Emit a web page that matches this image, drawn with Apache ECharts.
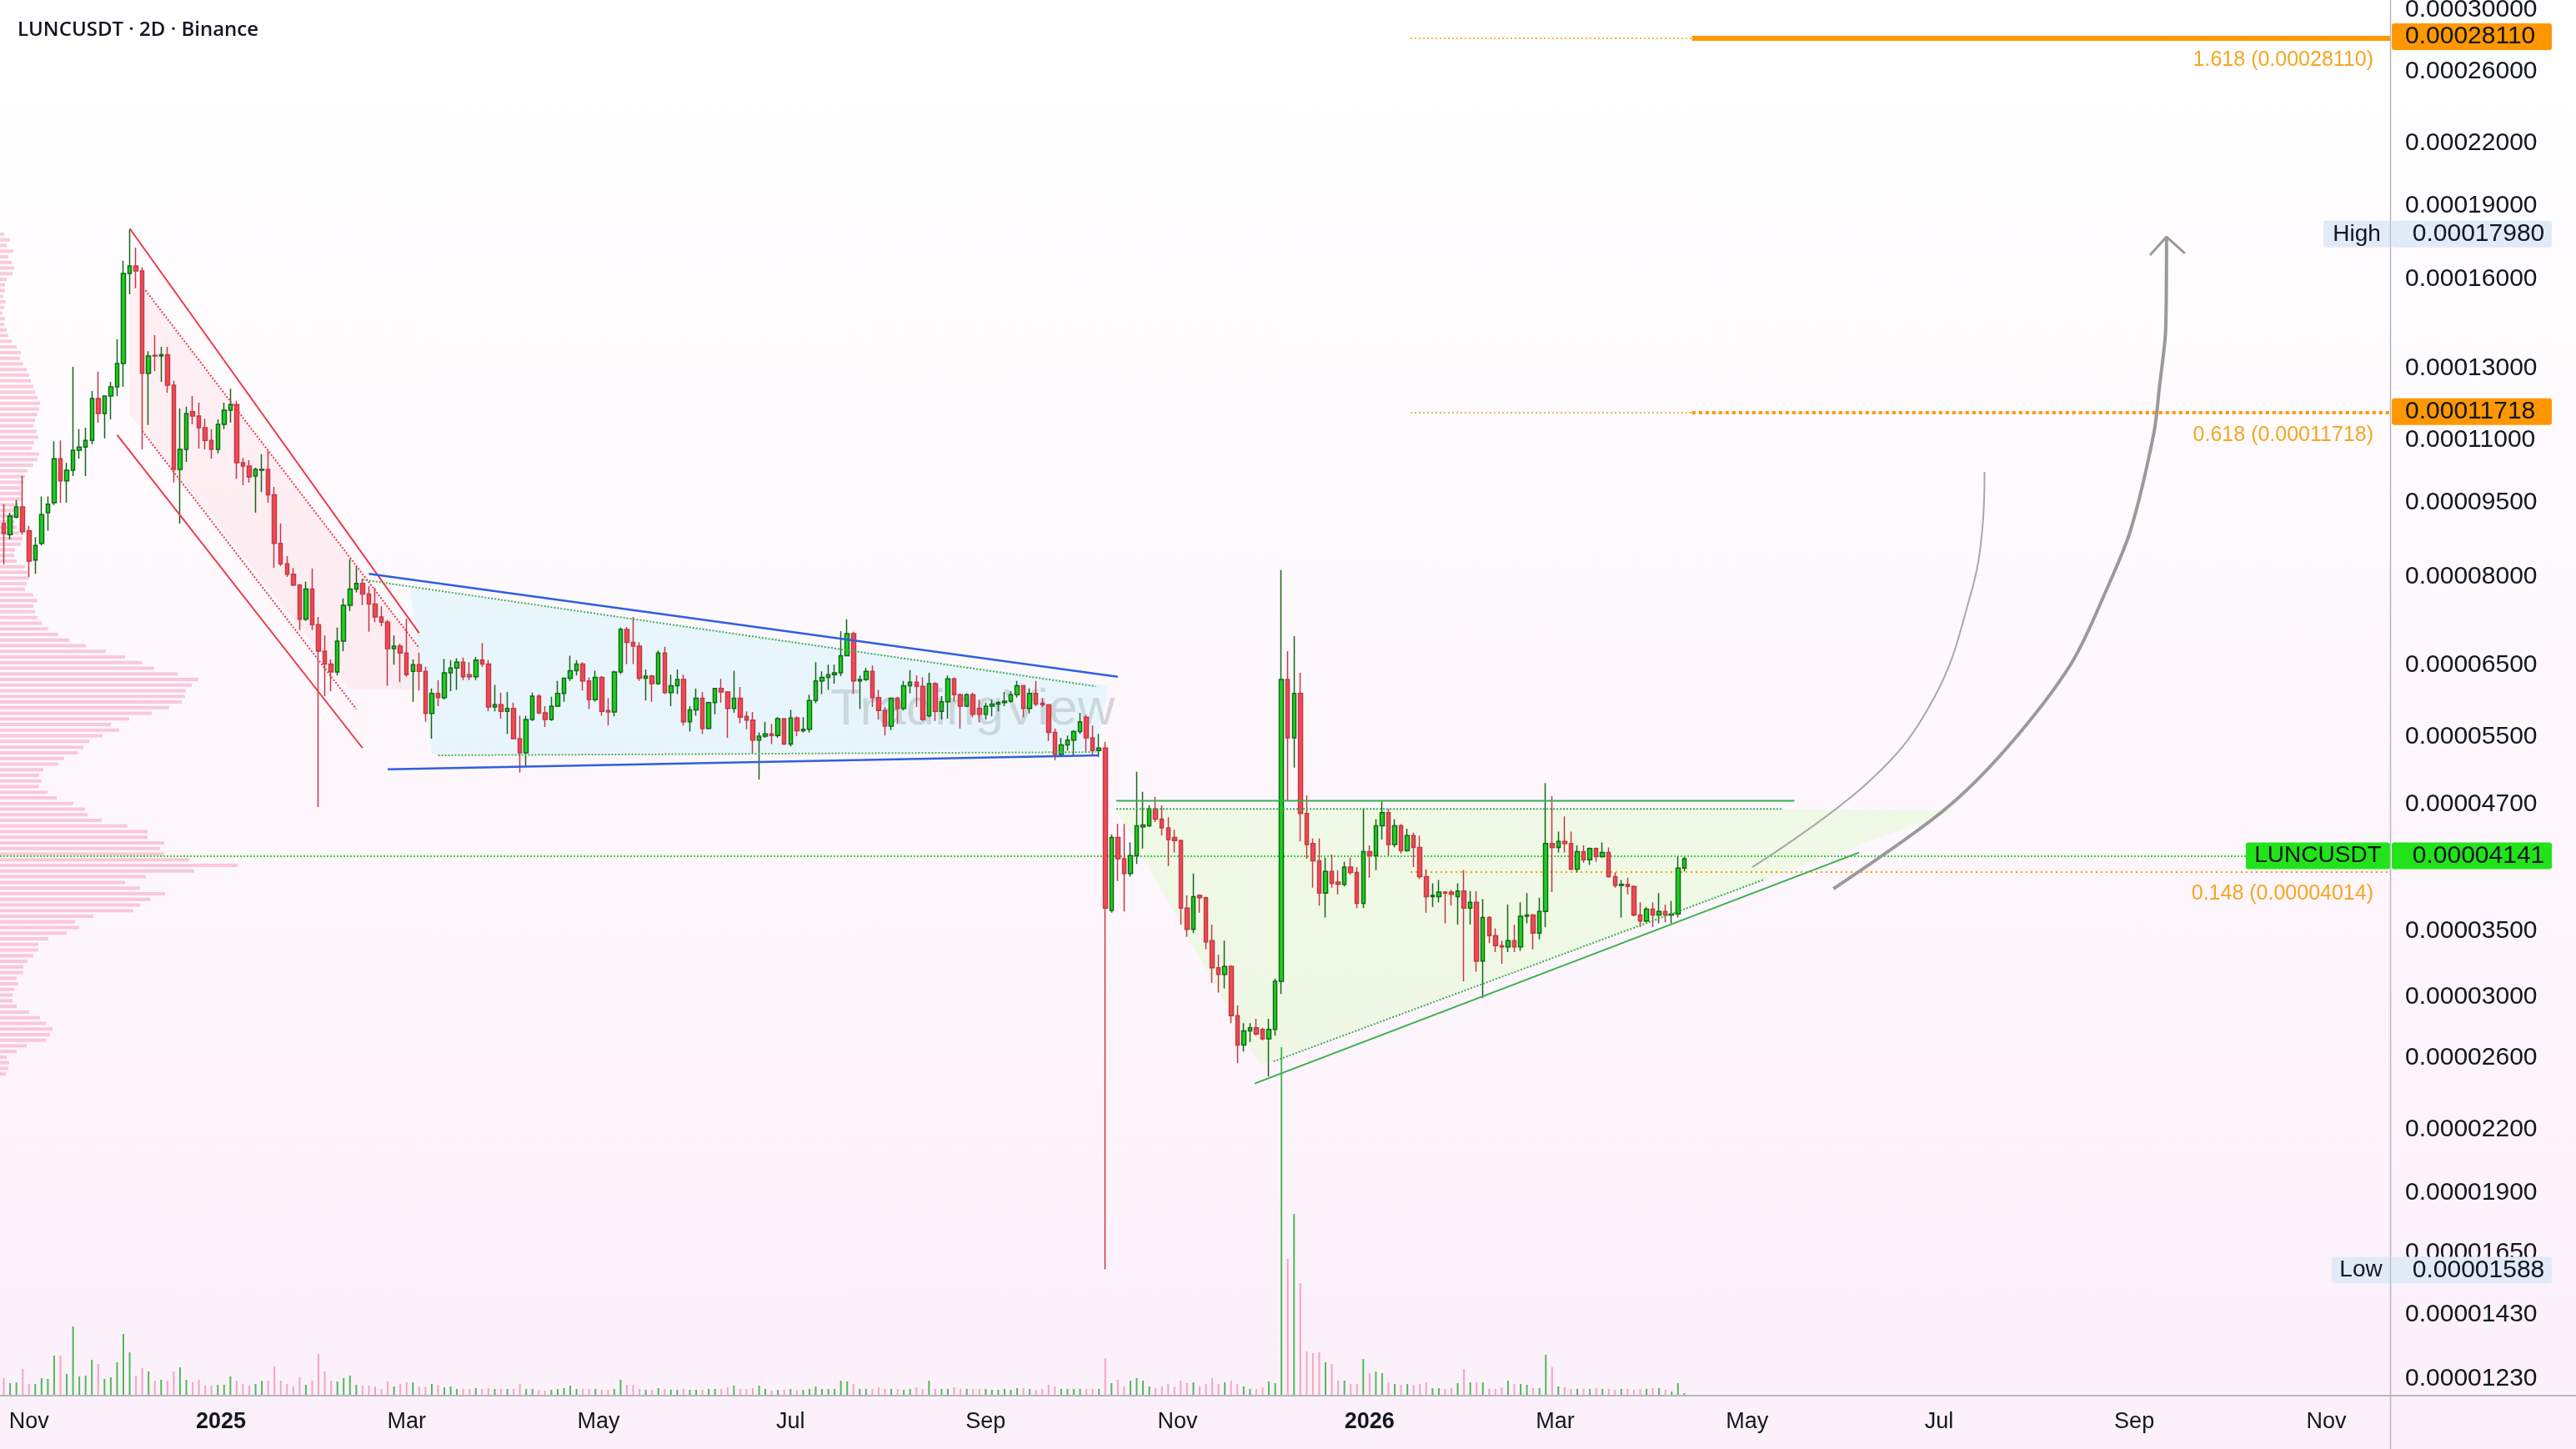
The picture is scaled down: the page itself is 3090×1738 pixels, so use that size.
<!DOCTYPE html>
<html>
<head>
<meta charset="utf-8">
<title>LUNCUSDT · 2D · Binance</title>
<script src="https://cdn.jsdelivr.net/npm/echarts@6.0.0/dist/echarts.min.js"></script>
<style>
  html, body { margin: 0; padding: 0; background: #fff; }
  #chart { width: 3090px; height: 1738px; }
</style>
</head>
<body>
<div id="chart"></div>
<script>
// prices are kept in units of 1e-5 USDT, one candle every 2 days from firstBar
const UNIT = 1e-5;
const firstBar = '2024-10-24';

const open = [
  9.05, 8.82, 9.19, 9.41, 8.90, 8.31, 8.64, 9.28, 9.50, 10.53,
  10.00, 10.25, 10.74, 10.82, 10.99, 12.12, 11.70, 12.19, 12.45, 13.15,
  16.22, 16.51, 16.32, 12.85, 13.40, 13.38, 13.42, 12.50, 10.27, 10.76,
  11.75, 11.63, 11.32, 10.99, 10.76, 11.41, 11.79, 11.95, 10.43, 10.35,
  10.11, 10.25, 10.27, 9.68, 8.64, 8.24, 8.04, 7.84, 7.24, 7.77,
  7.15, 6.72, 6.52, 6.40, 6.88, 7.48, 7.77, 7.87, 7.68, 7.50,
  7.28, 7.19, 6.76, 6.80, 6.69, 6.41, 6.51, 6.41, 5.81, 6.09,
  6.03, 6.39, 6.46, 6.55, 6.36, 6.33, 6.58, 6.52, 5.90, 5.93,
  5.84, 5.88, 5.48, 5.30, 5.73, 6.05, 5.82, 5.73, 5.91, 6.09,
  6.31, 6.42, 6.52, 6.27, 6.00, 6.32, 5.85, 5.83, 6.40, 7.07,
  6.86, 6.80, 6.31, 6.34, 6.23, 6.69, 6.10, 6.20, 6.29, 5.70,
  5.86, 6.02, 5.61, 5.96, 6.16, 6.11, 5.88, 6.02, 5.77, 5.72,
  5.46, 5.51, 5.54, 5.52, 5.74, 5.41, 5.75, 5.58, 5.60, 5.99,
  6.27, 6.32, 6.36, 6.39, 6.65, 7.00, 6.27, 6.29, 6.41, 6.03,
  5.85, 5.64, 6.02, 5.88, 6.20, 6.25, 6.19, 5.78, 6.23, 5.84,
  5.97, 6.30, 6.07, 5.91, 6.07, 5.88, 5.80, 5.91, 5.94, 5.96,
  5.98, 6.07, 6.20, 5.88, 6.09, 5.95, 5.93, 5.56, 5.28, 5.40,
  5.46, 5.57, 5.76, 5.49, 5.33, 5.36, 3.67, 4.35, 4.14, 4.00,
  4.17, 4.46, 4.47, 4.65, 4.54, 4.45, 4.35, 4.32, 3.69, 3.51,
  3.80, 3.78, 3.42, 3.21, 3.16, 3.22, 2.87, 2.68, 2.77, 2.79,
  2.78, 2.72, 2.78, 3.11, 6.29, 5.49, 6.09, 4.60, 4.29, 4.12,
  3.82, 4.02, 3.92, 3.90, 4.06, 4.01, 3.73, 4.21, 4.17, 4.47,
  4.61, 4.28, 4.47, 4.22, 4.37, 4.25, 3.97, 3.79, 3.79, 3.83,
  3.83, 3.79, 3.84, 3.69, 3.74, 3.26, 3.61, 3.46, 3.38, 3.37,
  3.42, 3.37, 3.62, 3.63, 3.48, 3.66, 4.29, 4.25, 4.31, 4.29,
  4.04, 4.21, 4.13, 4.24, 4.16, 4.20, 3.97, 3.89, 3.90, 3.88,
  3.63, 3.58, 3.68, 3.63, 3.66, 3.63, 3.64, 4.05
];
const close = [
  8.84, 9.21, 9.41, 8.88, 8.29, 8.60, 9.24, 9.47, 10.53, 10.00,
  10.25, 10.74, 10.82, 10.99, 12.12, 11.70, 12.19, 12.45, 13.15, 16.22,
  16.51, 16.32, 12.85, 13.38, 13.38, 13.42, 12.50, 10.27, 10.76, 11.70,
  11.63, 11.32, 10.99, 10.76, 11.41, 11.79, 11.95, 10.43, 10.35, 10.09,
  10.27, 10.27, 9.68, 8.64, 8.24, 8.04, 7.84, 7.24, 7.77, 7.15,
  6.72, 6.52, 6.40, 6.88, 7.48, 7.77, 7.87, 7.68, 7.50, 7.28,
  7.19, 6.76, 6.80, 6.69, 6.36, 6.51, 6.41, 5.81, 6.09, 6.03,
  6.39, 6.46, 6.55, 6.33, 6.33, 6.58, 6.52, 5.90, 5.93, 5.84,
  5.88, 5.48, 5.30, 5.73, 6.05, 5.82, 5.73, 5.91, 6.09, 6.31,
  6.42, 6.52, 6.27, 6.00, 6.32, 5.84, 5.83, 6.40, 7.07, 6.86,
  6.80, 6.31, 6.34, 6.23, 6.69, 6.10, 6.20, 6.29, 5.70, 5.86,
  6.02, 5.61, 5.96, 6.16, 6.11, 5.88, 6.02, 5.76, 5.72, 5.46,
  5.51, 5.54, 5.52, 5.74, 5.41, 5.75, 5.58, 5.60, 5.99, 6.27,
  6.32, 6.36, 6.39, 6.65, 7.00, 6.27, 6.29, 6.41, 6.03, 5.85,
  5.64, 6.02, 5.88, 6.20, 6.25, 6.19, 5.73, 6.23, 5.84, 5.97,
  6.30, 6.07, 5.91, 6.07, 5.80, 5.80, 5.91, 5.94, 5.96, 5.98,
  6.07, 6.20, 5.88, 6.09, 5.94, 5.93, 5.56, 5.28, 5.40, 5.46,
  5.57, 5.70, 5.49, 5.33, 5.36, 3.69, 4.35, 4.14, 4.00, 4.17,
  4.47, 4.48, 4.65, 4.54, 4.45, 4.33, 4.32, 3.69, 3.51, 3.79,
  3.78, 3.41, 3.21, 3.16, 3.22, 2.87, 2.68, 2.77, 2.79, 2.75,
  2.72, 2.78, 3.11, 6.29, 5.49, 6.09, 4.60, 4.28, 4.12, 3.82,
  4.02, 3.91, 3.90, 4.06, 4.01, 3.73, 4.21, 4.17, 4.47, 4.61,
  4.28, 4.47, 4.22, 4.37, 4.25, 3.97, 3.79, 3.80, 3.83, 3.82,
  3.81, 3.84, 3.69, 3.74, 3.26, 3.61, 3.46, 3.38, 3.37, 3.42,
  3.37, 3.62, 3.63, 3.48, 3.66, 4.29, 4.25, 4.31, 4.29, 4.04,
  4.21, 4.13, 4.24, 4.16, 4.20, 3.97, 3.89, 3.90, 3.88, 3.63,
  3.58, 3.68, 3.63, 3.66, 3.63, 3.64, 4.05, 4.141
];
const low = [
  8.23, 8.72, 9.16, 8.82, 7.99, 8.05, 8.60, 8.90, 9.45, 9.50,
  9.50, 10.11, 10.53, 10.11, 10.89, 11.45, 11.04, 11.54, 12.19, 12.45,
  15.45, 15.67, 10.76, 11.39, 12.92, 12.60, 12.28, 9.96, 9.05, 10.45,
  11.41, 10.78, 10.76, 10.53, 10.66, 11.28, 11.45, 10.05, 9.90, 9.96,
  9.28, 9.74, 9.50, 8.16, 8.20, 7.99, 7.82, 7.06, 7.21, 7.06,
  4.67, 6.05, 6.12, 6.35, 6.72, 7.38, 7.71, 7.48, 7.03, 7.19,
  7.12, 6.20, 6.51, 6.25, 6.33, 5.97, 6.13, 5.70, 5.48, 5.91,
  6.00, 6.12, 6.14, 6.28, 6.28, 6.28, 6.48, 5.84, 5.84, 5.74,
  5.54, 5.47, 5.06, 5.13, 5.71, 5.80, 5.63, 5.71, 5.90, 5.97,
  6.27, 6.35, 6.13, 5.87, 5.97, 5.78, 5.65, 5.77, 6.37, 6.52,
  6.52, 6.27, 5.99, 5.97, 6.21, 6.08, 5.91, 6.08, 5.65, 5.57,
  5.78, 5.54, 5.60, 5.80, 5.96, 5.49, 5.82, 5.68, 5.60, 5.30,
  4.98, 5.49, 5.41, 5.49, 5.40, 5.38, 5.51, 5.56, 5.56, 5.95,
  6.08, 6.14, 6.23, 6.34, 6.64, 6.08, 5.87, 6.27, 5.90, 5.73,
  5.52, 5.59, 5.67, 5.85, 6.09, 5.90, 5.71, 5.76, 5.71, 5.73,
  5.74, 5.97, 5.61, 5.90, 5.76, 5.69, 5.73, 5.77, 5.84, 5.91,
  5.96, 6.03, 5.76, 5.81, 5.91, 5.90, 5.45, 5.21, 5.26, 5.33,
  5.27, 5.54, 5.30, 5.28, 5.25, 1.588, 3.65, 3.93, 3.66, 3.97,
  4.09, 4.24, 4.46, 4.51, 4.37, 4.07, 4.20, 3.55, 3.45, 3.48,
  3.65, 3.35, 3.10, 3.03, 3.06, 2.82, 2.57, 2.64, 2.70, 2.74,
  2.71, 2.49, 2.74, 3.02, 4.74, 5.12, 4.31, 4.14, 3.87, 3.71,
  3.61, 3.87, 3.81, 3.88, 3.99, 3.69, 3.69, 3.96, 4.03, 4.33,
  4.17, 4.25, 4.19, 4.21, 4.06, 3.95, 3.65, 3.70, 3.74, 3.56,
  3.71, 3.55, 3.11, 3.55, 3.18, 2.99, 3.40, 3.33, 3.24, 3.33,
  3.33, 3.34, 3.56, 3.35, 3.43, 3.53, 3.83, 4.20, 4.20, 4.03,
  4.01, 4.10, 4.08, 4.11, 4.15, 3.96, 3.87, 3.61, 3.81, 3.62,
  3.53, 3.57, 3.53, 3.56, 3.57, 3.56, 3.61, 4.02
];
const high = [
  9.47, 9.28, 9.56, 10.11, 9.00, 8.77, 9.64, 9.64, 10.97, 10.99,
  10.43, 13.05, 11.28, 11.32, 12.33, 12.90, 12.19, 12.60, 13.91, 16.71,
  17.98, 17.23, 16.45, 13.53, 14.05, 13.67, 13.67, 12.63, 11.84, 11.89,
  12.19, 12.00, 11.56, 11.28, 11.54, 12.00, 12.40, 12.05, 10.55, 10.49,
  10.31, 10.64, 10.72, 9.86, 9.05, 8.39, 8.16, 7.86, 7.90, 8.15,
  7.28, 6.97, 6.59, 7.10, 7.60, 8.33, 8.20, 7.96, 7.82, 7.79,
  7.46, 7.23, 6.97, 6.84, 7.25, 6.59, 6.69, 6.48, 6.16, 6.28,
  6.60, 6.58, 6.61, 6.62, 6.55, 6.63, 6.85, 6.58, 6.21, 6.10,
  6.11, 5.96, 5.78, 5.78, 6.10, 6.08, 5.91, 6.04, 6.27, 6.32,
  6.65, 6.58, 6.55, 6.32, 6.42, 6.34, 6.02, 6.42, 7.10, 7.11,
  7.28, 6.86, 6.44, 6.36, 6.73, 6.79, 6.36, 6.44, 6.36, 5.91,
  6.16, 6.11, 5.97, 6.17, 6.30, 6.12, 6.42, 6.18, 5.84, 5.83,
  5.56, 5.70, 5.67, 5.76, 5.75, 5.86, 5.77, 5.76, 6.07, 6.55,
  6.41, 6.51, 6.51, 7.04, 7.24, 7.03, 6.35, 6.46, 6.50, 6.14,
  5.90, 6.03, 6.04, 6.27, 6.43, 6.35, 6.32, 6.39, 6.25, 6.05,
  6.35, 6.32, 6.09, 6.09, 6.10, 6.00, 5.96, 6.00, 5.98, 6.11,
  6.12, 6.27, 6.21, 6.16, 6.27, 6.02, 5.94, 5.61, 5.49, 5.52,
  5.59, 5.82, 5.79, 5.65, 5.54, 5.44, 4.38, 4.49, 4.49, 4.30,
  5.07, 4.84, 4.69, 4.78, 4.69, 4.56, 4.43, 4.33, 3.80, 4.00,
  3.81, 3.79, 3.55, 3.31, 3.42, 3.23, 2.94, 2.82, 2.82, 2.85,
  2.79, 2.85, 3.13, 8.12, 6.72, 6.96, 6.39, 4.80, 4.34, 4.34,
  4.15, 4.18, 4.03, 4.11, 4.15, 4.06, 4.66, 4.27, 4.54, 4.73,
  4.65, 4.54, 4.49, 4.44, 4.40, 4.37, 4.04, 3.91, 3.94, 3.84,
  3.85, 3.91, 4.03, 3.84, 3.84, 3.77, 3.62, 3.52, 3.42, 3.72,
  3.55, 3.74, 3.82, 3.64, 3.78, 4.94, 4.79, 4.41, 4.57, 4.41,
  4.27, 4.27, 4.25, 4.25, 4.30, 4.25, 4.01, 3.94, 3.96, 3.89,
  3.74, 3.70, 3.74, 3.82, 3.72, 3.75, 4.16, 4.16
];
const volume = [
  20, 14, 15, 31, 13, 13, 20, 19, 47, 47,
  25, 82, 22, 23, 42, 37, 19, 21, 39, 73,
  51, 23, 32, 28, 17, 18, 17, 28, 33, 18,
  15, 18, 11, 11, 12, 12, 22, 17, 13, 11,
  13, 17, 17, 34, 17, 13, 10, 21, 12, 17,
  49, 28, 17, 16, 20, 23, 12, 11, 11, 10,
  7, 16, 10, 13, 15, 15, 10, 10, 13, 12,
  9, 10, 7, 7, 7, 8, 7, 8, 7, 7,
  7, 7, 13, 7, 7, 6, 5, 6, 7, 8,
  11, 7, 7, 7, 7, 6, 6, 7, 18, 12,
  12, 7, 6, 6, 8, 7, 6, 6, 7, 6,
  6, 6, 7, 7, 7, 9, 11, 7, 7, 8,
  11, 7, 5, 6, 6, 7, 6, 6, 7, 10,
  7, 7, 7, 17, 16, 13, 7, 7, 7, 9,
  7, 7, 7, 6, 7, 9, 7, 17, 7, 7,
  7, 9, 7, 7, 7, 7, 7, 6, 6, 7,
  6, 8, 8, 7, 6, 7, 12, 10, 7, 7,
  7, 7, 7, 7, 7, 44, 14, 18, 10, 17,
  20, 17, 10, 8, 10, 13, 10, 17, 14, 15,
  10, 13, 20, 13, 15, 17, 13, 10, 7, 7,
  9, 16, 14, 417, 163, 217, 134, 52, 50, 51,
  39, 37, 17, 17, 13, 13, 43, 26, 28, 26,
  15, 13, 12, 13, 12, 13, 15, 8, 8, 7,
  8, 14, 31, 15, 15, 15, 7, 7, 9, 17,
  13, 13, 12, 8, 8, 48, 33, 10, 9, 7,
  7, 7, 7, 8, 7, 7, 6, 7, 7, 6,
  7, 7, 8, 8, 6, 4, 14, 2
];

// visible range volume profile, rows from profileTop down to profileBottom
const profileTop = 17.78;
const profileBottom = 2.505;
const profileVol = [
  5, 12, 8, 16, 10, 14, 17, 15, 8, 6,
  6, 4, 7, 5, 3, 6, 5, 8, 10, 14,
  20, 25, 24, 28, 32, 35, 37, 40, 42, 45,
  48, 47, 45, 42, 40, 44, 46, 41, 38, 47,
  45, 40, 33, 30, 28, 25, 27, 26, 22, 20,
  18, 17, 20, 23, 27, 25, 18, 17, 20, 30,
  33, 35, 32, 30, 40, 45, 40, 42, 45, 50,
  58, 70, 83, 103, 127, 150, 170, 185, 213, 238,
  230, 223, 222, 218, 203, 182, 155, 133, 143, 123,
  107, 100, 93, 77, 70, 52, 47, 50, 47, 57,
  68, 88, 102, 105, 122, 153, 177, 177, 197, 192,
  197, 227, 285, 233, 175, 150, 168, 198, 180, 168,
  160, 112, 90, 95, 80, 58, 46, 46, 40, 33,
  28, 28, 20, 22, 17, 15, 15, 20, 35, 48,
  55, 63, 60, 55, 32, 20, 8, 11, 10, 7
];

const priceTicks = [30, 26, 22, 19, 16, 13, 11, 9.5, 8, 6.5, 5.5, 4.7, 3.5, 3.0, 2.6, 2.2, 1.9, 1.65, 1.43, 1.23];
const timeTicks = ['2024-11-01', '2025-01-01', '2025-03-01', '2025-05-01', '2025-07-01', '2025-09-01',
  '2025-11-01', '2026-01-01', '2026-03-01', '2026-05-01', '2026-07-01', '2026-09-01', '2026-11-01'];
const monthNames = ['Jan', 'Feb', 'Mar', 'Apr', 'May', 'Jun', 'Jul', 'Aug', 'Sep', 'Oct', 'Nov', 'Dec'];

const lastPrice = 4.141;
const rangeHigh = 17.98;
const rangeLow = 1.588;

const fibRatio = ['1.618', '0.618', '0.148'];
const fibPrice = [28.11, 11.718, 4.014];
const fibFrom = '2026-01-14';
const fibHot = '2026-04-13T12:00';

// drawings, [date, price]
const redChannel = [
  [['2024-12-03', 18.02], ['2025-03-05', 7.01]],
  [['2024-11-29', 11.13], ['2025-02-15', 5.36]]
];
const redChannelMid = [
  [['2024-12-08', 15.60], ['2025-03-05', 6.77]],
  [['2024-12-07', 11.23], ['2025-02-13', 5.87]]
];
const blueWedge = [
  [['2025-02-17', 8.05], ['2025-10-13', 6.33]],
  [['2025-02-23', 5.10], ['2025-10-07', 5.27]]
];
const blueWedgeMid = [
  [['2025-02-15', 7.94], ['2025-10-06', 6.19]],
  [['2025-03-11', 5.27], ['2025-10-06', 5.31]]
];
const greenTriangle = [
  [['2025-10-12T12:00', 4.74], ['2026-05-16', 4.74]],
  [['2025-11-25T12:00', 2.45], ['2026-06-05T12:00', 4.20]]
];
const greenTriangleMid = [
  [['2025-10-12T12:00', 4.65], ['2026-05-12', 4.65]],
  [['2025-12-01T12:00', 2.58], ['2026-05-06', 3.94]]
];
const fills = [
  { pts: [['2024-12-03', 16.32], ['2025-03-05', 6.77], ['2025-03-05', 6.14], ['2025-02-11', 6.14], ['2024-12-03', 11.68]], color: 'rgba(242,54,69,0.06)' },
  { pts: [['2025-03-02', 7.79], ['2025-10-10', 6.20], ['2025-10-06', 5.33], ['2025-03-09', 5.28]], color: 'rgba(150,235,250,0.2)' },
  { pts: [['2025-10-12T12:00', 4.65], ['2026-07-06', 4.64], ['2025-11-27', 2.56]], color: 'rgba(210,255,180,0.32)' }
];
const arrowThin = [['2026-05-02T14:00', 4.06], ['2026-06-09T02:00', 4.97], ['2026-06-29T10:00', 6.03],
  ['2026-07-11T00:00', 7.67], ['2026-07-14T17:00', 8.93], ['2026-07-15T10:00', 10.21]];
const arrowThick = [['2026-05-28T10:00', 3.86], ['2026-07-02T07:00', 4.63], ['2026-07-22T17:00', 5.37],
  ['2026-08-12T00:00', 6.53], ['2026-08-23T14:00', 7.81], ['2026-08-30T22:00', 8.93], ['2026-09-07T05:00', 11.17],
  ['2026-09-09T00:00', 12.45], ['2026-09-11T00:00', 14.30], ['2026-09-11T06:00', 17.67]];
const arrowHead = [['2026-09-06T00:00', 16.93], ['2026-09-11T06:00', 17.67], ['2026-09-17T02:00', 17.00]];

const FONT = '"Liberation Sans", Arial, sans-serif';
const DAY = 86400000;
const ts = s => Date.parse(s.length > 10 ? s + ':00Z' : s + 'T00:00:00Z');
const lg = p => Math.log10(p * UNIT);
const fmt = p => (p * UNIT).toFixed(8);

const X_MIN = ts('2024-10-22T19:00');
const X_MAX = ts('2026-11-21T07:00');
const Y_MIN = lg(1.185);
const Y_MAX = lg(30.71);

const ORANGE = '#ff9800';
const FIB_TEXT = '#f5a623';
const TAG_BLUE = '#e1ebf7';
const PRICE_GREEN = '#22e31a';
const HIDDEN_LINE = { color: 'rgba(0,0,0,0)', width: 1, type: 'solid' };

const t0 = ts(firstBar);
const times = open.map((_, i) => t0 + i * 2 * DAY);

const candles = times.map((t, i) => [t, lg(open[i]), lg(close[i]), lg(low[i]), lg(high[i])]);
const volBars = times.map((t, i) => ({
  value: [t, volume[i]],
  itemStyle: { color: close[i] >= open[i] ? 'rgba(46,178,60,0.85)' : 'rgba(242,140,170,0.75)' }
}));
const profileRows = profileVol.map((v, j) => {
  const level = profileTop * Math.pow(profileBottom / profileTop, j / (profileVol.length - 1));
  return [v, lg(level)];
});

function valueBox(price, bg, tag, tagWidth, lineStyle) {
  const text = '{v|' + fmt(price) + '}';
  return {
    yAxis: lg(price),
    lineStyle: lineStyle || HIDDEN_LINE,
    label: {
      show: true,
      position: 'end',
      distance: 2,
      offset: tag ? [-(tagWidth + 2), 0] : [0, 0],
      formatter: tag ? '{t|' + tag + '}{g| }' + text : text,
      rich: {
        v: { backgroundColor: bg, color: '#131722', fontSize: 30, fontFamily: FONT, width: 176, height: 32, lineHeight: 32, padding: [0, 0, 0, 16], borderRadius: 3 },
        g: { width: 2, height: 32 },
        t: { backgroundColor: bg, color: '#131722', fontSize: 28, fontFamily: FONT, width: tagWidth || 0, height: 32, lineHeight: 32, align: 'center', borderRadius: 3 }
      }
    }
  };
}

const fibLines = [];
fibPrice.forEach((p, i) => {
  const y = lg(p);
  const label = {
    show: true, position: 'insideEndBottom', distance: [20, 14],
    formatter: fibRatio[i] + ' (' + fmt(p) + ')',
    color: FIB_TEXT, fontSize: 25, fontFamily: FONT
  };
  if (i < 2) {
    fibLines.push([{ coord: [ts(fibFrom), y], lineStyle: { color: ORANGE, width: 1.5, type: [2, 3] } }, { coord: [ts(fibHot), y] }]);
    fibLines.push([{ coord: [ts(fibHot), y], lineStyle: { color: ORANGE, width: i === 0 ? 6 : 4, type: i === 0 ? 'solid' : 'dotted' }, label }, { coord: [X_MAX, y] }]);
  } else {
    fibLines.push([{ coord: [ts(fibFrom), y], lineStyle: { color: ORANGE, width: 2, type: [2, 4] }, label }, { coord: [X_MAX, y] }]);
  }
});

function drawing(pts, color, width, type, smooth) {
  return {
    type: 'line', xAxisIndex: 0, yAxisIndex: 0, z: 6, silent: true,
    data: pts.map(p => [ts(p[0]), lg(p[1])]),
    symbol: 'none', showSymbol: false, smooth: smooth || false,
    lineStyle: { color, width, type: type || 'solid' }
  };
}

const drawSeries = [];
redChannel.forEach(l => drawSeries.push(drawing(l, '#ee3b4b', 2)));
redChannelMid.forEach(l => drawSeries.push(drawing(l, '#ee3b4b', 2, 'dotted')));
blueWedge.forEach(l => drawSeries.push(drawing(l, '#2f5fe0', 2.5)));
blueWedgeMid.forEach(l => drawSeries.push(drawing(l, '#3fae5a', 2, 'dotted')));
greenTriangle.forEach(l => drawSeries.push(drawing(l, '#36b04a', 2)));
greenTriangleMid.forEach(l => drawSeries.push(drawing(l, '#36b04a', 2, 'dotted')));
drawSeries.push(drawing(arrowThin, '#a8a8a8', 2, 'solid', 0.4));
drawSeries.push(drawing(arrowThick, '#9a9a9a', 4, 'solid', 0.3));
drawSeries.push(drawing(arrowHead, '#9a9a9a', 3));

const chart = echarts.init(document.getElementById('chart'));
chart.setOption({
  animation: false,
  backgroundColor: new echarts.graphic.LinearGradient(0, 0, 0, 1, [
    { offset: 0, color: '#ffffff' },
    { offset: 1, color: '#fcf0fa' }
  ]),
  title: {
    text: 'LUNCUSDT · 2D · Binance',
    left: 16,
    top: 19,
    textStyle: { fontSize: 24, fontWeight: 600, color: '#131722', fontFamily: '"Open Sans", sans-serif' }
  },
  grid: { left: 0, right: 223, top: 0, bottom: 65, containLabel: false, outerBoundsMode: 'none' },
  xAxis: [
    {
      // dates as epoch ms on a plain value axis, labelled at month starts
      type: 'value',
      min: X_MIN,
      max: X_MAX,
      axisLine: { show: false },
      axisTick: { show: false },
      splitLine: { show: false },
      axisLabel: {
        customValues: timeTicks.map(ts),
        margin: 19,
        fontSize: 27,
        fontFamily: FONT,
        color: '#131722',
        formatter: v => {
          const d = new Date(v);
          return d.getUTCMonth() === 0 ? '{b|' + d.getUTCFullYear() + '}' : monthNames[d.getUTCMonth()];
        },
        rich: { b: { fontSize: 27, fontWeight: 'bold', fontFamily: FONT, color: '#131722' } }
      }
    },
    { type: 'value', position: 'top', min: 0, max: 2867, show: false }
  ],
  yAxis: [
    {
      type: 'value',
      position: 'right',
      min: Y_MIN,
      max: Y_MAX,
      axisLine: { show: false },
      axisTick: { show: false },
      splitLine: { show: false },
      axisLabel: {
        customValues: priceTicks.map(lg),
        margin: 18,
        fontSize: 30,
        fontFamily: FONT,
        color: '#131722',
        formatter: v => Math.pow(10, v).toFixed(8)
      }
    },
    { type: 'value', position: 'left', min: 0, max: 1673, show: false }
  ],
  series: [
    {
      type: 'custom', name: 'profile', xAxisIndex: 1, yAxisIndex: 0, z: 1, silent: true,
      data: profileRows,
      encode: { x: 0, y: 1 },
      renderItem: (params, api) => {
        const a = api.coord([0, api.value(1)]);
        const b = api.coord([api.value(0), api.value(1)]);
        return { type: 'rect', shape: { x: a[0], y: a[1] - 2, width: b[0] - a[0], height: 4 }, style: { fill: 'rgba(244,143,177,0.45)' } };
      }
    },
    {
      type: 'custom', name: 'fills', xAxisIndex: 0, yAxisIndex: 0, z: 1, silent: true,
      data: fills.map((f, i) => [ts(f.pts[0][0]), lg(f.pts[0][1]), i]),
      encode: { x: 0, y: 1 },
      renderItem: (params, api) => {
        const f = fills[api.value(2)];
        return { type: 'polygon', shape: { points: f.pts.map(p => api.coord([ts(p[0]), lg(p[1])])) }, style: { fill: f.color } };
      }
    },
    {
      type: 'bar', name: 'volume', xAxisIndex: 0, yAxisIndex: 1, z: 2, silent: true,
      barWidth: 2,
      data: volBars
    },
    {
      type: 'candlestick', name: 'LUNCUSDT', xAxisIndex: 0, yAxisIndex: 0, z: 5,
      data: candles,
      encode: { x: 0, y: [1, 2, 3, 4] },
      barWidth: 5,
      itemStyle: {
        color: '#1ad41a', color0: '#f04a55',
        borderColor: '#16661b', borderColor0: '#c23a45',
        borderWidth: 1.5
      },
      markLine: {
        silent: true,
        symbol: ['none', 'none'],
        animation: false,
        label: { show: false },
        data: fibLines.concat([
          valueBox(fibPrice[0], ORANGE),
          valueBox(fibPrice[1], ORANGE),
          valueBox(rangeHigh, TAG_BLUE, 'High', 80),
          valueBox(rangeLow, TAG_BLUE, 'Low', 70),
          valueBox(lastPrice, PRICE_GREEN, 'LUNCUSDT', 173, { color: '#3ad13a', type: 'dotted', width: 2 })
        ])
      }
    }
  ].concat(drawSeries),
  graphic: [
    { type: 'text', left: 996, top: 821, z: 0, silent: true, style: { text: 'TradingView', fontSize: 62, fontFamily: FONT, fill: 'rgba(60,60,60,0.2)' } },
    { type: 'line', z: 50, silent: true, shape: { x1: 2867.5, y1: 0, x2: 2867.5, y2: 1738 }, style: { stroke: '#b4b7bf', lineWidth: 1.5 } },
    { type: 'line', z: 50, silent: true, shape: { x1: 0, y1: 1674, x2: 3090, y2: 1674 }, style: { stroke: '#b4b7bf', lineWidth: 2 } }
  ]
});
</script>
</body>
</html>
